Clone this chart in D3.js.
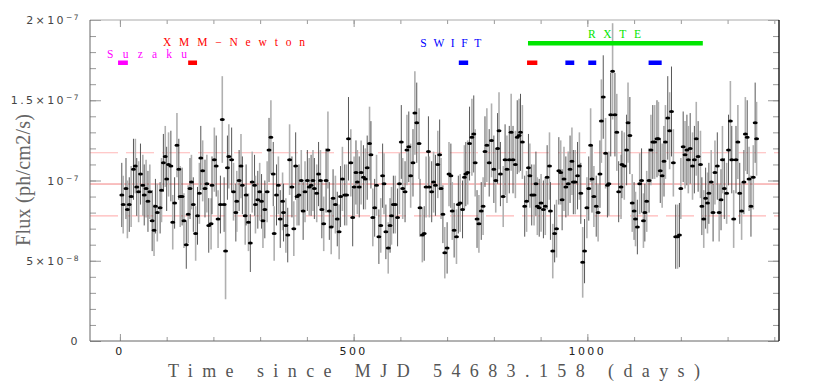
<!DOCTYPE html>
<html>
<head>
<meta charset="utf-8">
<script src="https://d3js.org/d3.v7.min.js"></script>
<style>
  body { margin: 0; background: #fff; }
</style>
</head>
<body>
<svg width="830" height="382"></svg>
<script>

// time since MJD 54683.158 (days), 4-day bins
var days = [4,7,13,16,20,24,29,33,36,40, 44,49,52,56,60,64,69,73,76,80, 86,89,93,97,100,104,109,113,117,122,
  126,129,133,137,142,146,150,153,157,162, 166,170,173,177,182,186,190,195,197,202, 206,210,215,219,223,226,230,233,239,243,
  248,250,255,259,262,
  268,270,275,279,283,288,290,295,299,303, 306,310,315,319,323,328,330,335,339,343, 348,350,355,359,363,368,372,376,379,383,
  388,392,396,401,405,409,413,416,421,425, 429,432,436,441,445,448,452,456,461,465, 469,472,476,481,485,489,494,498,501,505,
  508,512,516,521,525,529,534,537,
  541,545,549,554,558,562,565,569,574,578, 581,585,589,594,598,602,605,610,614,618, 622,627,631,635,640,642,647,651,655,660,
  662,667,671,675,680,684,687,691,695,700, 704,708,711,715,720,724,728,733,737,740, 744,748,753,757,760,764,768,773,777,781,
  785,790,795,800,804,808,811,814,
  820,824,828,833,837,841,846,850,854,857, 861,866,870,874,877,881,886,890,893,897, 901,906,910,914,919,921,926,930,934,939,
  943,946,950,954,959,963,967,970,974,979, 983,986,990,994,999,1003,1007,1010,1014,1019, 1023,1027,1030,1034,1039,1043,1046,1050,1054,1059,
  1063,1067,1072,1074,1079,1084,1087,1091,
  1096,1100,1103,1107,1112,1116,1120,1123,1127,1132, 1136,1140,1144,1149,1152,1156,1160,1164,1167,1172, 1176,1180,1184,1189,1193,1197,1200,1205,1209,1213,
  1216,1220,1225,1229,1233,1237,1242,1245,1249,1253, 1257,1260,1265,1269,1273,1278,1282,1286,1289,1293, 1298,1302,1306,1309,1313,1318,1322,1326,1330,1335,
  1338,1342,1346,1350,1355,1359,1362];

// flux in units of 1e-7 ph/cm2/s
var flux = [0.91,0.85,0.95,0.82,0.85,0.90,1.07,1.09,0.96,0.93, 1.04,0.97,0.91,0.95,0.87,0.93,0.75,0.69,0.84,0.80, 0.83,0.94,1.11,1.15,1.01,1.10,1.09,0.74,0.86,1.22,
  1.07,0.90,0.90,0.75,0.60,0.79,0.95,0.99,0.85,0.67, 0.78,0.92,1.14,1.06,0.95,0.98,0.72,0.73,0.97,1.13, 1.09,0.76,0.85,1.38,0.85,0.56,1.08,1.15,1.13,0.93,
  0.80,0.87,1.00,1.09,0.97,
  0.78,0.91,0.74,0.61,0.99,0.97,0.85,0.88,0.93,0.87, 0.75,0.82,0.93,1.19,1.27,1.04,0.67,0.91,0.97,0.76, 0.87,0.80,0.72,0.66,1.13,0.96,0.70,1.09,0.90,0.91,
  1.00,0.81,0.93,1.00,0.96,0.97,1.00,0.95,0.92,1.04, 1.00,0.82,0.73,1.00,1.19,0.81,0.71,0.89,0.85,0.76, 0.68,0.90,1.01,0.91,0.91,1.26,1.11,0.77,0.96,1.05,
  0.99,0.96,1.05,1.02,1.01,1.08,1.23,1.16,
  0.77,0.83,0.97,0.65,0.72,1.03,0.98,0.68,0.58,0.72, 0.78,0.85,0.85,0.77,0.98,1.24,0.95,0.93,1.19,1.21, 1.03,1.11,1.42,1.36,1.23,0.83,0.66,0.67,0.96,1.18,
  0.96,0.93,0.99,0.97,1.10,1.16,0.95,0.79,0.55,0.58, 1.04,1.03,0.81,0.69,0.65,0.85,0.86,0.82,1.02,1.04, 1.05,1.23,1.27,1.29,1.11,0.76,0.73,0.81,0.84,1.18,
  1.22,1.11,1.25,1.07,1.00,1.20,1.31,1.04,
  0.90,1.13,1.07,1.13,1.30,1.13,1.10,1.27,1.28,1.30, 1.24,0.84,0.87,1.08,1.03,0.91,0.91,0.98,0.84,0.83, 0.86,0.82,0.84,1.02,1.09,0.81,0.56,0.67,0.70,1.06,
  1.05,0.88,1.01,0.96,0.98,1.07,1.12,0.99,0.99,1.03, 1.09,0.92,0.49,0.56,0.83,0.95,1.22,1.01,0.90,0.84, 0.80,1.04,1.37,1.52,1.17,0.97,0.98,1.41,1.68,1.41,
  1.30,0.93,0.96,1.10,1.09,1.19,1.36,1.28,
  0.86,0.81,0.76,0.71,0.98,1.00,0.75,0.80,0.87,1.00, 1.19,1.24,1.24,1.26,1.26,1.06,1.03,1.12,1.24,1.39, 1.31,1.43,1.11,0.65,0.65,0.66,0.95,1.21,1.16,1.19,
  1.13,1.20,1.09,1.13,1.26,1.15,1.10,0.84,0.76,0.89, 0.86,0.92,0.99,0.80,1.05,1.09,0.80,0.88,1.13,0.95, 0.92,1.19,1.37,1.13,0.76,1.13,1.24,0.92,0.81,0.99,
  1.29,1.27,1.01,0.84,1.02,1.36,1.26];

// 1-sigma errors, same units
var fluxErr = [0.20,0.18,0.19,0.18,0.17,0.19,0.19,0.17,0.18,0.19, 0.19,0.19,0.19,0.18,0.19,0.17,0.19,0.16,0.17,0.18, 0.16,0.20,0.18,0.19,0.20,0.20,0.22,0.17,0.16,0.20,
  0.19,0.19,0.18,0.17,0.15,0.18,0.19,0.17,0.17,0.17, 0.18,0.19,0.20,0.19,0.18,0.18,0.17,0.16,0.18,0.20, 0.19,0.18,0.18,0.27,0.17,0.30,0.20,0.20,0.20,0.18,
  0.18,0.19,0.19,0.20,0.18,
  0.18,0.19,0.18,0.18,0.19,0.19,0.18,0.18,0.18,0.17, 0.17,0.18,0.19,0.20,0.23,0.20,0.17,0.19,0.18,0.18, 0.18,0.18,0.17,0.17,0.22,0.19,0.17,0.21,0.18,0.19,
  0.19,0.18,0.19,0.19,0.18,0.19,0.19,0.19,0.18,0.20, 0.19,0.18,0.17,0.20,0.24,0.18,0.17,0.18,0.18,0.17, 0.17,0.19,0.20,0.19,0.19,0.26,0.21,0.18,0.19,0.20,
  0.20,0.19,0.20,0.20,0.19,0.20,0.23,0.21,
  0.18,0.18,0.19,0.17,0.17,0.20,0.19,0.17,0.16,0.17, 0.18,0.18,0.18,0.18,0.19,0.23,0.19,0.19,0.22,0.22, 0.20,0.21,0.26,0.25,0.22,0.18,0.17,0.17,0.19,0.22,
  0.19,0.19,0.19,0.19,0.21,0.22,0.19,0.18,0.16,0.16, 0.20,0.20,0.18,0.17,0.17,0.18,0.18,0.18,0.20,0.20, 0.20,0.23,0.24,0.24,0.21,0.18,0.18,0.18,0.18,0.22,
  0.23,0.21,0.23,0.21,0.20,0.22,0.24,0.20,
  0.19,0.22,0.21,0.21,0.24,0.21,0.21,0.23,0.23,0.24, 0.23,0.19,0.19,0.21,0.20,0.19,0.19,0.20,0.18,0.18, 0.18,0.18,0.18,0.20,0.21,0.18,0.17,0.18,0.18,0.21,
  0.20,0.19,0.20,0.19,0.20,0.21,0.21,0.20,0.20,0.21, 0.21,0.19,0.22,0.20,0.19,0.20,0.23,0.21,0.19,0.19, 0.18,0.21,0.26,0.26,0.22,0.20,0.20,0.26,0.30,0.26,
  0.24,0.19,0.20,0.21,0.21,0.22,0.25,0.24,
  0.18,0.18,0.17,0.17,0.19,0.20,0.17,0.18,0.19,0.20, 0.22,0.23,0.23,0.24,0.23,0.20,0.20,0.22,0.23,0.26, 0.24,0.28,0.21,0.20,0.20,0.20,0.19,0.22,0.21,0.22,
  0.21,0.22,0.21,0.21,0.23,0.22,0.21,0.18,0.18,0.19, 0.19,0.19,0.20,0.18,0.20,0.21,0.18,0.19,0.21,0.19, 0.19,0.22,0.25,0.21,0.18,0.21,0.23,0.19,0.18,0.20,
  0.23,0.23,0.20,0.19,0.20,0.25,0.23];

// mean flux and +/- 1 sigma levels
var meanLevel = 0.978;
var sigmaLevels = [1.173, 0.78];

// other observatories
var campaignNames = ['Suzaku', 'XMM\u2212Newton', 'SWIFT', 'RXTE'];
var campaignSpans = [
  [[-4, 17]],
  [[146, 165], [871, 893]],
  [[725, 745], [953, 972], [1002, 1019], [1131, 1159]],
  [[873, 1247]]
];

var xMajor = [0, 500, 1000];
var xMinor = d3.range(0, 1401, 100);
var yMajor = [0, 0.5, 1, 1.5, 2];
var yMinor = d3.range(0, 2.001, 0.1);
var yLabelBase = ['0', '5\u00d710', '10', '1.5\u00d710', '2\u00d710'];
var yLabelExp  = ['', '\u22128', '\u22127', '\u22127', '\u22127'];

var points = days.map(function(d, i) { return {t: d, f: flux[i], e: fluxErr[i], i: i}; });

var svg = d3.select('svg');
var L = 90, R = 779, T = 20, B = 341;
var SERIF = '"Liberation Serif", "DejaVu Serif", serif';
var SANS = '"DejaVu Sans", sans-serif';

var x = d3.scaleLinear().domain([-64, 1410]).range([L, R]);
var y = d3.scaleLinear().domain([0, 2]).range([B, T]);

// mean and sigma lines
svg.append('line')
  .attr('x1', L).attr('x2', R)
  .attr('y1', y(meanLevel)).attr('y2', y(meanLevel))
  .attr('stroke', '#f28080').attr('stroke-width', 1);

svg.selectAll('.sig')
  .data(sigmaLevels)
  .enter().append('line')
  .attr('class', 'sig')
  .attr('x1', L).attr('x2', R)
  .attr('y1', function(d) { return y(d); })
  .attr('y2', function(d) { return y(d); })
  .attr('stroke', '#ffb8b8').attr('stroke-width', 1.2)
  .attr('stroke-dasharray', '28,8');

// error bars
svg.selectAll('.err')
  .data(points)
  .enter().append('line')
  .attr('class', 'err')
  .attr('x1', function(d) { return x(d.t); })
  .attr('x2', function(d) { return x(d.t); })
  .attr('y1', function(d) { return y(d.f - d.e); })
  .attr('y2', function(d) { return y(d.f + d.e); })
  .attr('stroke', function(d) { return d.i % 2 ? '#b0b0b0' : '#444'; })
  .attr('stroke-width', function(d) { return d.i % 2 ? 1.6 : 0.9; });

// data points
svg.selectAll('.pt')
  .data(points)
  .enter().append('ellipse')
  .attr('class', 'pt')
  .attr('cx', function(d) { return x(d.t); })
  .attr('cy', function(d) { return y(d.f); })
  .attr('rx', 2.5).attr('ry', 1.5)
  .attr('fill', '#000');

// axes
function ticks(axis, vals, size, g) {
  g.call(axis.tickValues(vals).tickSize(size).tickSizeOuter(0).tickFormat(''));
  g.select('.domain').remove();
  g.selectAll('line').attr('stroke', '#999');
}
ticks(d3.axisBottom(x), xMinor, 4, svg.append('g').attr('transform', 'translate(0,' + T + ')'));
ticks(d3.axisBottom(x), xMajor, 7, svg.append('g').attr('transform', 'translate(0,' + T + ')'));
ticks(d3.axisTop(x), xMinor, 4, svg.append('g').attr('transform', 'translate(0,' + B + ')'));
ticks(d3.axisTop(x), xMajor, 7, svg.append('g').attr('transform', 'translate(0,' + B + ')'));
ticks(d3.axisRight(y), yMinor, 6, svg.append('g').attr('transform', 'translate(' + L + ',0)'));
ticks(d3.axisRight(y), yMajor, 11, svg.append('g').attr('transform', 'translate(' + L + ',0)'));
ticks(d3.axisLeft(y), yMinor, 6, svg.append('g').attr('transform', 'translate(' + R + ',0)'));
ticks(d3.axisLeft(y), yMajor, 11, svg.append('g').attr('transform', 'translate(' + R + ',0)'));

// frame
svg.append('line').attr('x1', L).attr('x2', R).attr('y1', T).attr('y2', T).attr('stroke', '#aaa');
svg.append('line').attr('x1', L).attr('x2', R).attr('y1', B).attr('y2', B).attr('stroke', '#666');
svg.append('line').attr('x1', L).attr('x2', L).attr('y1', T).attr('y2', B).attr('stroke', '#666');
svg.append('line').attr('x1', R).attr('x2', R).attr('y1', T).attr('y2', B).attr('stroke', '#000').attr('stroke-width', 1.3);

// x tick labels
svg.selectAll('.xl')
  .data(xMajor)
  .enter().append('text')
  .attr('class', 'xl')
  .attr('x', function(d) { return x(d); })
  .attr('y', 355)
  .attr('text-anchor', 'middle')
  .style('font-family', SANS)
  .style('font-size', '11px')
  .style('letter-spacing', '2.4px')
  .attr('fill', '#222')
  .text(function(d) { return d; });

// y tick labels
var yl = svg.selectAll('.yl')
  .data(yMajor)
  .enter().append('text')
  .attr('class', 'yl')
  .attr('x', 80)
  .attr('y', function(d) { return y(d) + 4; })
  .attr('text-anchor', 'end')
  .style('font-family', SANS)
  .style('font-size', '11px')
  .style('letter-spacing', '2.4px')
  .attr('fill', '#444');
yl.append('tspan').text(function(d, i) { return yLabelBase[i]; });
yl.append('tspan')
  .attr('dy', -4)
  .style('font-size', '7.5px')
  .style('letter-spacing', '1.5px')
  .text(function(d, i) { return yLabelExp[i]; });

// axis titles
svg.append('text')
  .attr('transform', 'translate(30,180) rotate(-90)')
  .attr('text-anchor', 'middle')
  .style('font-family', SERIF)
  .style('font-size', '20px')
  .attr('textLength', 132).attr('lengthAdjust', 'spacing')
  .attr('fill', '#666')
  .text('Flux (ph/cm2/s)');

svg.append('text')
  .attr('x', 168).attr('y', 377)
  .style('font-family', SERIF)
  .style('font-size', '18px')
  .attr('textLength', 532).attr('lengthAdjust', 'spacing')
  .attr('fill', '#555')
  .text('Time since MJD 54683.158 (days)');

// campaign bars and labels
var campColor = ['#ff00ff', '#ff0000', '#0000ff', '#00e600'];
var campLabel = [
  {t: 58, y: 58, w: 80},
  {t: 244, y: 46, w: 142},
  {t: 708, y: 47, w: 61},
  {t: 1058, y: 38, w: 53}
];

campaignSpans.forEach(function(spans, k) {
  var big = campaignNames[k] === 'RXTE';
  svg.selectAll('.c' + k)
    .data(spans)
    .enter().append('rect')
    .attr('x', function(d) { return x(d[0]); })
    .attr('width', function(d) { return x(d[1]) - x(d[0]); })
    .attr('y', big ? 41 : 60.5)
    .attr('height', 4.5)
    .attr('fill', campColor[k]);

  svg.append('text')
    .attr('x', x(campLabel[k].t))
    .attr('y', campLabel[k].y)
    .attr('text-anchor', 'middle')
    .style('font-family', SERIF)
    .style('font-size', '11.5px')
    .attr('textLength', campLabel[k].w).attr('lengthAdjust', 'spacing')
    .attr('fill', campColor[k])
    .text(campaignNames[k]);
});

</script>
</body>
</html>
